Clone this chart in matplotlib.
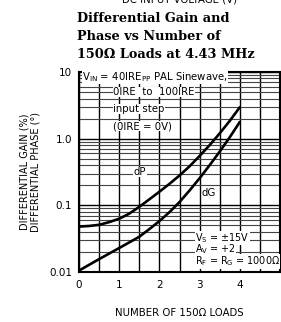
import matplotlib
matplotlib.use("Agg")
import matplotlib.pyplot as plt
import numpy as np

plt.rcParams['font.family'] = ['DejaVu Sans']
plt.rcParams['mathtext.fontset'] = 'dejavusans'

loads = [0, 0.25, 0.5, 0.75, 1, 1.25, 1.5, 1.75, 2, 2.25, 2.5, 2.75, 3, 3.25, 3.5, 3.75, 4]
dP = [0.048, 0.049, 0.051, 0.056, 0.063, 0.075, 0.095, 0.123, 0.160, 0.210, 0.280,
      0.385, 0.550, 0.80, 1.20, 1.85, 2.96]
dG = [0.0105, 0.0128, 0.0156, 0.0189, 0.0229, 0.0278, 0.0338, 0.044, 0.058, 0.079,
      0.112, 0.167, 0.255, 0.40, 0.64, 1.05, 1.78]
xtick_labels = ['0', '1', '2', '3', '4']
ytick_vals = [0.01, 0.1, 1.0, 10]
ytick_labels = ['0.01', '0.1', '1.0', '10']

W, H = 281, 322
fig = plt.figure(figsize=(W / 100, H / 100), dpi=100)
ax = fig.add_axes([79 / W, (H - 272) / H, (280 - 79) / W, 200 / H])

ax.set_yscale('log')
ax.set_ylim(0.01, 10)
ax.set_xlim(0, 5)

xt = np.arange(0, 5.01, 0.5)
ax.set_xticks(xt)
ax.set_xticklabels([xtick_labels[int(v)] if (v == int(v) and v < 5) else '' for v in xt])
ax.set_yticks(ytick_vals)
ax.set_yticklabels(ytick_labels)
ax.yaxis.set_minor_locator(matplotlib.ticker.LogLocator(base=10, subs=np.arange(2, 10)))
ax.yaxis.set_minor_formatter(matplotlib.ticker.NullFormatter())
ax.grid(True, which='major', axis='both', color='black', lw=1.0)
ax.grid(True, which='minor', axis='y', color='#444444', lw=0.8)
ax.tick_params(axis='both', which='both', length=0)
ax.tick_params(axis='y', pad=5, labelsize=7.5)
ax.tick_params(axis='x', pad=6, labelsize=7.5)
for s in ax.spines.values():
    s.set_linewidth(1.5)
    s.set_color('black')
ax.set_axisbelow(True)

ax.plot(loads, dP, color='black', lw=1.9, solid_capstyle='round', zorder=3)
ax.plot(loads, dG, color='black', lw=1.9, solid_capstyle='round', zorder=3)

box = dict(facecolor='white', edgecolor='none', pad=0.3)
fs = 7.3
ax.text(0.015, 0.975, r'$\mathregular{V_{IN}}$ = 40IRE$\mathregular{_{PP}}$ PAL Sinewave,', transform=ax.transAxes,
        fontsize=fs, va='center', ha='left', bbox=box, zorder=4)
ax.text(0.169, 0.90, '0IRE  to  100IRE', transform=ax.transAxes,
        fontsize=fs, va='center', ha='left', bbox=box, zorder=4)
ax.text(0.169, 0.815, 'input step', transform=ax.transAxes,
        fontsize=fs, va='center', ha='left', bbox=box, zorder=4)
ax.text(0.169, 0.73, '(0IRE = 0V)', transform=ax.transAxes,
        fontsize=fs, va='center', ha='left', bbox=box, zorder=4)
ax.text(0.303, 0.50, 'dP', transform=ax.transAxes,
        fontsize=fs, va='center', ha='center', bbox=box, zorder=4)
ax.text(0.647, 0.395, 'dG', transform=ax.transAxes,
        fontsize=fs, va='center', ha='center', bbox=box, zorder=4)
fs2 = 6.9
ax.text(0.577, 0.17, r'$\mathregular{V_S}$ = ±15V', transform=ax.transAxes,
        fontsize=fs2, va='center', ha='left', bbox=box, zorder=4)
ax.text(0.577, 0.112, r'$\mathregular{A_V}$ = +2', transform=ax.transAxes,
        fontsize=fs2, va='center', ha='left', bbox=box, zorder=4)
ax.text(0.577, 0.052, r'$\mathregular{R_F}$ = $\mathregular{R_G}$ = 1000Ω', transform=ax.transAxes,
        fontsize=fs2, va='center', ha='left', bbox=box, zorder=4)

ax.set_ylabel('DIFFERENTIAL GAIN (%)\nDIFFERENTIAL PHASE (°)', fontsize=7, labelpad=6, linespacing=1.15)

fig.text(179.5 / W, 1 - 313.5 / H, 'NUMBER OF 150Ω LOADS', fontsize=7.3, ha='center', va='center')

tkw = dict(family=['DejaVu Serif'], fontweight='bold', fontsize=9.3, ha='left', va='baseline')
fig.text(77 / W, 1 - 22 / H, 'Differential Gain and', **tkw)
fig.text(77 / W, 1 - 40 / H, 'Phase vs Number of', **tkw)
fig.text(77 / W, 1 - 58 / H, '150Ω Loads at 4.43 MHz', **tkw)
fig.text(180 / W, 1 - 2 / H, 'DC INPUT VOLTAGE (V)', fontsize=7.3, ha='center', va='baseline')

fig.savefig('out.png', dpi=100)
